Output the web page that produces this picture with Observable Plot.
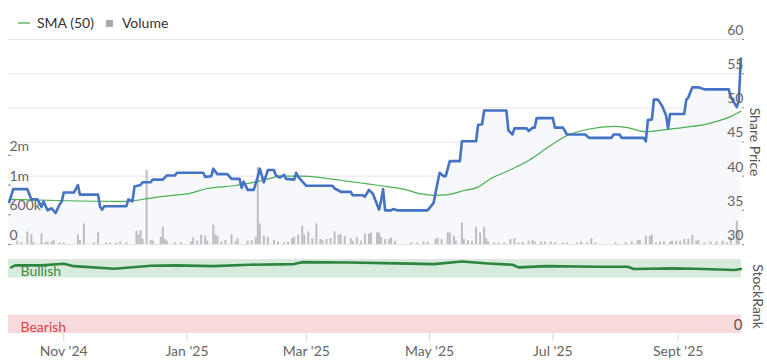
<!DOCTYPE html>
<html><head><meta charset="utf-8">
<script src="https://cdn.jsdelivr.net/npm/d3@7"></script>
<script src="https://cdn.jsdelivr.net/npm/@observablehq/plot@0.6"></script>
<style>
body{margin:0;background:#fff;font-family:Lato,sans-serif;}
#wrap{position:relative;width:767px;height:360px;overflow:hidden;background:#fff}
#wrap svg{position:absolute;left:0}
#legend{position:absolute;top:14px;left:18px;font:14px Lato,sans-serif;color:#333;display:flex;align-items:center;white-space:nowrap}
</style></head><body><div id="wrap"><div id="legend"><span style="display:inline-block;width:12px;height:2px;background:#8cca8e;margin-right:7px"></span>SMA (50)<span style="display:inline-block;width:7px;height:7px;background:#a8a9ae;margin:2px 9px 0 12px"></span>Volume</div></div>
<script>
// ---- data ----
const priceDates = ["2024-10-05","2024-10-07","2024-10-14","2024-10-16","2024-10-19","2024-10-21","2024-10-22","2024-10-24","2024-10-26","2024-10-28","2024-10-30","2024-10-31","2024-11-01","2024-11-06","2024-11-08","2024-11-09","2024-11-18","2024-11-19","2024-11-20","2024-11-21","2024-12-02","2024-12-03","2024-12-05","2024-12-06","2024-12-09","2024-12-10","2024-12-14","2024-12-15","2024-12-20","2024-12-22","2024-12-26","2024-12-27","2025-01-09","2025-01-10","2025-01-13","2025-01-14","2025-01-16","2025-01-21","2025-01-23","2025-01-27","2025-01-28","2025-01-29","2025-01-31","2025-02-03","2025-02-05","2025-02-06","2025-02-08","2025-02-10","2025-02-13","2025-02-14","2025-02-16","2025-02-18","2025-02-19","2025-02-23","2025-02-24","2025-02-25","2025-02-28","2025-03-01","2025-03-14","2025-03-15","2025-03-17","2025-03-18","2025-03-23","2025-03-24","2025-03-29","2025-03-30","2025-04-01","2025-04-03","2025-04-06","2025-04-07","2025-04-08","2025-04-09","2025-04-12","2025-04-13","2025-04-15","2025-04-30","2025-05-03","2025-05-05","2025-05-06","2025-05-08","2025-05-09","2025-05-11","2025-05-16","2025-05-17","2025-05-24","2025-05-25","2025-05-27","2025-05-28","2025-06-08","2025-06-09","2025-06-11","2025-06-12","2025-06-18","2025-06-19","2025-06-21","2025-06-22","2025-06-23","2025-07-01","2025-07-02","2025-07-06","2025-07-08","2025-07-17","2025-07-19","2025-07-30","2025-07-31","2025-08-03","2025-08-04","2025-08-15","2025-08-16","2025-08-17","2025-08-19","2025-08-20","2025-08-22","2025-08-24","2025-08-26","2025-08-27","2025-08-28","2025-09-04","2025-09-05","2025-09-06","2025-09-08","2025-09-11","2025-09-14","2025-09-26","2025-09-27","2025-09-30","2025-10-01","2025-10-02"];
const priceValues = [36.2,38.1,38.1,36.6,36.6,35.5,36.3,35.0,35.3,34.6,35.9,36.3,37.6,37.6,38.7,37.3,37.3,35.5,35.1,35.6,35.6,36.6,36.3,38.5,38.7,39.1,39.1,39.5,39.5,40.1,40.1,40.5,40.5,39.9,40.0,41.1,40.3,40.3,39.6,39.6,38.3,39.2,38.0,38.0,39.9,41.1,39.1,40.9,40.9,40.1,39.8,40.2,39.6,39.5,40.5,39.9,38.9,38.6,38.6,38.2,37.9,37.7,37.7,37.2,37.2,37.0,38.0,37.4,35.1,36.4,38.1,35.0,35.0,35.2,35.0,35.0,36.1,39.1,40.5,40.0,40.0,42.2,42.2,45.1,45.1,47.5,47.6,49.6,49.6,46.7,46.1,47.0,47.0,46.6,47.1,47.1,48.5,48.5,47.1,47.1,46.1,46.1,45.6,45.6,46.1,46.1,45.6,45.6,45.1,48.2,48.3,51.2,51.2,50.3,48.9,47.0,49.1,49.1,51.2,51.5,53.0,53.0,52.7,52.7,51.6,50.1,51.0,57.2];

const smaDates = ["2024-10-05","2024-11-03","2024-12-02","2024-12-14","2024-12-25","2025-01-01","2025-01-11","2025-01-24","2025-02-03","2025-02-10","2025-02-16","2025-02-26","2025-03-08","2025-03-18","2025-03-28","2025-04-07","2025-04-18","2025-04-27","2025-05-03","2025-05-10","2025-05-18","2025-05-25","2025-05-31","2025-06-09","2025-06-19","2025-06-29","2025-07-07","2025-07-19","2025-07-31","2025-08-07","2025-08-16","2025-08-26","2025-09-06","2025-09-16","2025-09-26","2025-10-02"];
const smaValues = [36.6,36.4,36.3,36.8,37.2,37.4,38.2,38.6,39.1,39.6,40.0,40.0,39.8,39.4,39.0,38.6,38.1,37.4,37.2,37.3,37.9,38.4,39.6,40.8,42.3,44.3,45.8,46.9,47.3,47.1,46.5,46.8,47.2,47.7,48.6,49.5];

const volDates = ["2024-10-09","2024-10-11","2024-10-14","2024-10-16","2024-10-17","2024-10-21","2024-10-23","2024-10-24","2024-10-26","2024-10-27","2024-10-30","2024-11-01","2024-11-08","2024-11-09","2024-11-11","2024-11-16","2024-11-18","2024-11-22","2024-11-24","2024-11-27","2024-11-29","2024-12-02","2024-12-07","2024-12-08","2024-12-09","2024-12-10","2024-12-12","2024-12-14","2024-12-15","2024-12-19","2024-12-20","2024-12-21","2024-12-22","2024-12-26","2024-12-29","2025-01-03","2025-01-04","2025-01-06","2025-01-08","2025-01-10","2025-01-11","2025-01-14","2025-01-15","2025-01-16","2025-01-18","2025-01-20","2025-01-23","2025-01-25","2025-01-26","2025-01-31","2025-02-02","2025-02-04","2025-02-05","2025-02-06","2025-02-08","2025-02-10","2025-02-13","2025-02-15","2025-02-18","2025-02-20","2025-02-22","2025-02-23","2025-02-25","2025-02-27","2025-02-28","2025-03-02","2025-03-04","2025-03-06","2025-03-08","2025-03-09","2025-03-11","2025-03-13","2025-03-15","2025-03-17","2025-03-18","2025-03-20","2025-03-23","2025-03-24","2025-03-26","2025-03-28","2025-03-30","2025-04-01","2025-04-02","2025-04-05","2025-04-06","2025-04-07","2025-04-09","2025-04-11","2025-04-12","2025-04-14","2025-04-22","2025-04-25","2025-04-28","2025-04-30","2025-05-04","2025-05-05","2025-05-07","2025-05-10","2025-05-11","2025-05-13","2025-05-14","2025-05-17","2025-05-18","2025-05-20","2025-05-22","2025-05-24","2025-05-26","2025-05-28","2025-05-29","2025-05-30","2025-06-02","2025-06-04","2025-06-07","2025-06-10","2025-06-12","2025-06-14","2025-06-16","2025-06-19","2025-06-21","2025-06-22","2025-06-25","2025-06-27","2025-06-30","2025-07-02","2025-07-06","2025-07-08","2025-07-13","2025-07-15","2025-07-18","2025-07-20","2025-07-22","2025-08-01","2025-08-06","2025-08-09","2025-08-12","2025-08-13","2025-08-16","2025-08-18","2025-08-19","2025-08-21","2025-08-23","2025-08-25","2025-08-28","2025-08-29","2025-08-31","2025-09-02","2025-09-04","2025-09-06","2025-09-08","2025-09-10","2025-09-11","2025-09-14","2025-09-17","2025-09-20","2025-09-23","2025-09-25","2025-09-27","2025-09-30","2025-10-01"];
const volValues = [56,27,211,168,27,178,27,43,43,67,27,23,157,67,346,27,195,27,23,27,43,27,224,157,235,85,1246,67,56,122,290,85,56,27,27,43,111,56,157,139,56,325,157,139,43,67,168,43,100,56,67,122,1292,346,139,122,67,43,27,43,100,122,157,307,157,211,100,346,85,67,85,100,211,157,168,139,100,56,122,56,178,178,195,195,195,122,85,85,111,56,27,27,43,43,85,111,85,195,195,139,56,363,85,67,56,290,195,290,100,43,27,27,27,85,100,27,43,56,67,43,43,43,43,27,27,27,27,43,27,100,27,27,27,43,67,67,139,139,157,27,43,43,43,56,56,56,85,85,157,56,67,27,43,43,56,27,122,392,224]; // thousands

const rankDates = ["2024-10-06","2024-10-08","2024-10-21","2024-11-01","2024-11-06","2024-11-26","2024-12-14","2024-12-26","2025-01-14","2025-02-01","2025-02-23","2025-02-27","2025-03-22","2025-04-15","2025-05-03","2025-05-17","2025-05-30","2025-06-11","2025-06-14","2025-06-28","2025-07-23","2025-08-07","2025-08-10","2025-08-29","2025-09-09","2025-09-29","2025-10-02"];
const rankValues = [89.3,92,92,94.3,91,87.6,91.6,92,91,92.9,93.8,96.4,96,94.7,93.8,97.3,94.7,92.9,89.3,91,90.2,90.2,87.1,88,87.6,85.8,87.1];

const priceTicks = [30,35,40,45,50,55,60];
const volTicks = [0,500,1000,1500];
const volTickLabels = ["0","600k","1m","2m"];
const xTickDates = ["2024-11-01","2025-01-01","2025-03-01","2025-05-01","2025-07-01","2025-09-01"];
const xTickLabels = ["Nov '24","Jan '25","Mar '25","May '25","Jul '25","Sept '25"];
const bandNames = ["Bullish","Bearish"];
const bandLow = [75,0];
const bandHigh = [100,25];
const rankTicks = [0];

// ---- tables ----
const price = priceDates.map((d,i)=>({date:new Date(d), value:priceValues[i]}));
const sma = smaDates.map((d,i)=>({date:new Date(d), value:smaValues[i]}));
const volume = volDates.map((d,i)=>({date:new Date(d), value:volValues[i]}));
const rank = rankDates.map((d,i)=>({date:new Date(d), value:rankValues[i]}));
const bands = bandNames.map((n,i)=>({name:n, lo:bandLow[i], hi:bandHigh[i]}));
const xTicks = xTickDates.map(d=>new Date(d));

const xDomain = [new Date("2024-10-04T16:00Z"), new Date("2025-10-02T08:00Z")];
const W = 767;
const baseOpts = {width:W, marginLeft:8, marginRight:26, style:{fontFamily:"Lato, sans-serif", fontSize:"14px", color:"#666", background:"transparent", overflow:"visible"}};
const upperOpts = {...baseOpts, height:250, marginTop:39, marginBottom:6, x:{type:"utc", domain:xDomain, axis:null}};
const wrap = document.getElementById("wrap");
function add(svg, y){ svg.style.top = y+"px"; wrap.appendChild(svg); }
const blank = () => "";

// Layer A: grid + area
add(Plot.plot({...upperOpts, y:{domain:[30,60], axis:null}, marks:[
  Plot.gridY(priceTicks, {stroke:"#e6e6e6", strokeOpacity:1}),
  Plot.areaY(price, {x:"date", y1:priceTicks[0], y2:"value", fill:"#f6f8fc"})
]}), 0);

// Layer B: volume
add(Plot.plot({...upperOpts, y:{domain:[0,3450], axis:null}, marks:[
  Plot.ruleX(volume, {x:"date", y1:0, y2:"value", stroke:"#bdbec3", strokeWidth:2}),
  Plot.axisY(volTicks, {anchor:"left", tickSize:-3, tickPadding:0, tickFormat:blank, stroke:"#888", label:null}),
  Plot.axisY(volTicks, {anchor:"left", tickSize:0, tickPadding:0, textAnchor:"start", dx:1, dy:-9, tickFormat:(d,i)=>volTickLabels[i], fill:"#666", label:null})
]}), 0);

// Layer C: lines + right axis
add(Plot.plot({...upperOpts, y:{domain:[30,60], axis:null}, marks:[
  Plot.lineY(sma, {x:"date", y:"value", stroke:"#4caf50", strokeWidth:1.2, curve:"monotone-x"}),
  Plot.lineY(price, {x:"date", y:"value", stroke:"#4472c4", strokeWidth:2.6}),
  Plot.axisY(priceTicks, {anchor:"right", tickSize:2, tickFormat:blank, stroke:"#888", label:null}),
  Plot.axisY(priceTicks, {anchor:"right", tickSize:0, tickPadding:0, textAnchor:"end", dx:2, dy:-9, fill:"#666", label:null}),
  Plot.text(["Share Price"], {frameAnchor:"right", textAnchor:"middle", rotate:90, dx:13, fill:"#555", fontSize:14})
]}), 0);

// StockRank panel
add(Plot.plot({...baseOpts, height:110, marginTop:9, marginBottom:27,
  x:{type:"utc", domain:xDomain, axis:null}, y:{domain:[0,100], axis:null}, marks:[
  Plot.rect(bands, {y1:"lo", y2:"hi", fill:d=>d.name==="Bullish"?"#d6ebdc":"#f8dadd"}),
  Plot.ruleY([100], {stroke:"#e3e3e3"}),
  Plot.lineY(rank, {x:"date", y:"value", stroke:"#2e8540", strokeWidth:2.6}),
  Plot.text(bands, {y:d=>(d.lo+d.hi)/2, text:"name", frameAnchor:"left", textAnchor:"start", dx:12, dy:3, fontSize:14, fill:d=>d.name==="Bullish"?"#3a8d4c":"#d9454f"}),
  Plot.axisY(rankTicks, {anchor:"right", tickSize:0, tickPadding:0, textAnchor:"end", dx:1, dy:-8, fill:"#555", fontSize:15, label:null}),
  Plot.text(["StockRank"], {frameAnchor:"right", textAnchor:"middle", rotate:90, dx:16, fill:"#555", fontSize:14}),
  Plot.axisX(xTicks, {anchor:"bottom", tickSize:8, tickFormat:blank, stroke:"#ccd6eb", label:null}),
  Plot.axisX(xTicks, {anchor:"bottom", tickSize:0, tickPadding:13, tickFormat:(d,i)=>xTickLabels[i], fill:"#666", label:null})
]}), 250);
</script></body></html>
